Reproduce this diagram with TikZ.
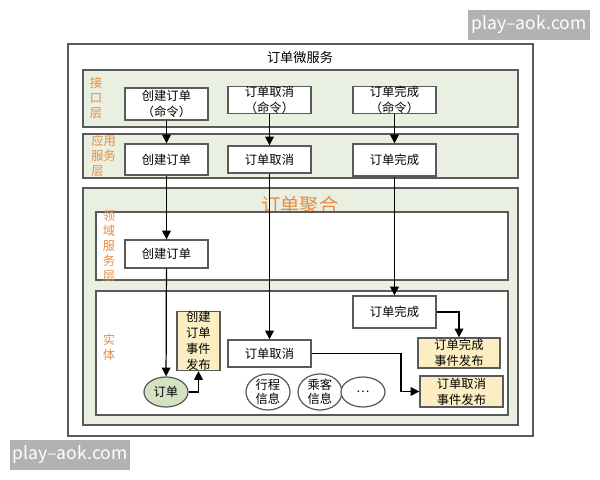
\documentclass[tikz,border=0pt]{standalone}
\usepackage{fontspec}
\setmainfont{Noto Sans CJK SC}
\usetikzlibrary{shapes.geometric,arrows.meta}
\definecolor{layer}{RGB}{234,240,225}
\definecolor{bd}{RGB}{90,90,90}
\definecolor{beige}{RGB}{252,237,195}
\definecolor{eg}{RGB}{212,227,196}
\definecolor{org}{RGB}{228,140,70}
\begin{document}
\begin{tikzpicture}[x=0.02cm,y=-0.02cm,
  lay/.style={draw=bd,line width=0.9pt,fill=layer},
  pan/.style={draw=bd,line width=0.9pt,fill=white},
  bx/.style={draw=bd,line width=0.8pt,fill=white,font=\fontsize{7}{9}\selectfont,align=center,inner sep=0pt},
  ev/.style={bx,fill=beige},
  el/.style={draw=bd,line width=0.7pt,ellipse,minimum width=44*0.02cm,minimum height=30*0.02cm,inner sep=0pt,font=\fontsize{7}{8}\selectfont,align=center,fill=white},
  lab/.style={text=org,font=\fontsize{7}{8.6}\selectfont,align=center,inner sep=0pt},
  ar/.style={-{Triangle[length=5pt,width=5pt]},line width=0.7pt},
  wm/.style={fill=gray!60,text=white,font=\fontsize{10}{12}\selectfont,inner sep=0pt}]
\useasboundingbox (0,0) rectangle (600,480);
\draw[draw=bd,line width=0.9pt,fill=white] (68,44) rectangle (533,436);
\node[font=\fontsize{7.5}{9}\selectfont] (title) at (300,58) {订单微服务};
% interface layer
\draw[lay] (83,70) rectangle (518,127);
\node[lab] (l1) at (96,98) {接\\口\\层};
\node[bx,minimum width=83*0.02cm,minimum height=32*0.02cm] (c1) at (166.5,104) {创建订单\\（命令）};
\node[bx,minimum width=83*0.02cm,minimum height=26*0.02cm] (q1) at (269.5,100) {订单取消\\（命令）};
\node[bx,minimum width=83*0.02cm,minimum height=26*0.02cm] (f1) at (394.5,100) {订单完成\\（命令）};
% app layer
\draw[lay] (83,134) rectangle (518,178);
\node[lab,align=left,anchor=west] (l2) at (91,156) {应用\\服务\\层};
\node[bx,minimum width=83*0.02cm,minimum height=31*0.02cm] (c2) at (166.5,159.5) {创建订单};
\node[bx,minimum width=83*0.02cm,minimum height=27*0.02cm] (q2) at (269.5,159.5) {订单取消};
\node[bx,minimum width=83*0.02cm,minimum height=32*0.02cm] (f2) at (394.5,160) {订单完成};
% aggregate
\draw[lay] (83,188) rectangle (518,425);
\node[text=org,font=\fontsize{11}{12}\selectfont] (agg) at (300,205) {订单聚合};
\draw[pan] (96,212) rectangle (508,280);
\node[lab] (l3) at (109,246) {领\\域\\服\\务\\层};
\node[bx,minimum width=83*0.02cm,minimum height=28*0.02cm] (c3) at (166.5,254) {创建订单};
\draw[pan] (96,291) rectangle (508,415);
\node[lab] (l4) at (109,347) {实\\体};
\node[bx,minimum width=83*0.02cm,minimum height=32*0.02cm] (f4) at (394.5,312) {订单完成};
\node[ev,minimum width=82*0.02cm,minimum height=30*0.02cm] (fe) at (459,353) {订单完成\\事件发布};
\node[bx,minimum width=83*0.02cm,minimum height=27*0.02cm] (q4) at (269.5,353.5) {订单取消};
\node[ev,minimum width=83*0.02cm,minimum height=31*0.02cm] (qe) at (461.5,391.5) {订单取消\\事件发布};
\node[ev,minimum width=43*0.02cm,minimum height=58*0.02cm] (ce) at (198.5,341) {创建\\订单\\事件\\发布};
\node[el,fill=eg] (o) at (166,392) {订单};
\node[el] (e1) at (268,392) {行程\\信息};
\node[el] (e2) at (320,392) {乘客\\信息};
\node[el] (e3) at (363,392) {…};
% arrows
\draw[ar] (c1) -- (c2);
\draw[ar] (q1) -- (q2);
\draw[ar] (f1) -- (f2);
\draw[ar] (c2) -- (c3);
\draw[ar] (c3) -- (o);
\draw[ar] (q2) -- (q4);
\draw[ar] (f2) -- (f4);
\draw[ar] (f4.east) -| (fe.north);
\draw[ar] (q4.east) -- (401,353.5) |- (qe.west);
\draw[ar] (o.east) -| (ce.south);
% watermarks
\node[wm,minimum width=122*0.02cm,minimum height=30*0.02cm] (w1) at (529,25) {play–aok.com};
\node[wm,minimum width=120*0.02cm,minimum height=30*0.02cm] (w2) at (70,455) {play–aok.com};
\end{tikzpicture}
\end{document}
